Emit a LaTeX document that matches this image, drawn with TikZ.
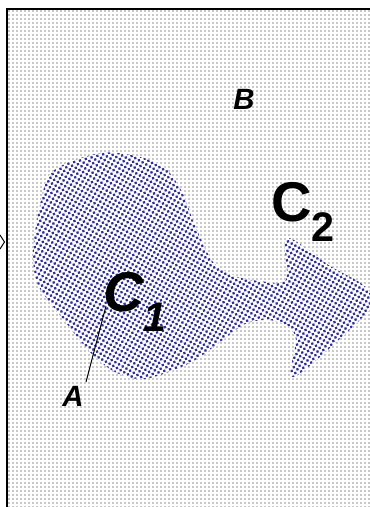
\documentclass[tikz,border=0pt]{standalone}
\usepackage{fontspec}
\setmainfont{Liberation Sans}
\usepackage{tikz}
\definecolor{dotgray}{HTML}{C8C8C8}
\definecolor{blobblue}{HTML}{2E2E94}
\newcommand{\blobpath}{plot[smooth cycle, tension=0.5] coordinates {
    (100,153) (140,157) (165,168) (182,192) (196,228) (213,262)
    (235,276) (260,281) (286,280) (287,238) (330,266) (362,284)
    (373,300) (362,318) (294,377) (296,340) (288,326) (268,320)
    (245,324) (220,342) (190,363) (145,379) (115,372) (90,352)
    (60,315) (38,285) (33,255) (38,215) (52,172)}}

\begin{document}
\begin{tikzpicture}[x=0.75pt, y=-0.75pt,
    bgrow/.style={dotgray, line width=1pt, dash pattern=on 1pt off 2pt},
    blobrow/.style={blobblue, line width=1.7pt, dash pattern=on 1.7pt off 2.8pt},
    lab/.style={inner sep=0pt, anchor=base west, font=\bfseries\itshape\fontsize{22}{22}\selectfont},
    biglab/.style={inner sep=0pt, anchor=base west, font=\bfseries\fontsize{42}{42}\selectfont}]
        \useasboundingbox (0,0) rectangle (370,507);
        \fill[white] (0,0) rectangle (370,507);
        \foreach \y in {11,15,...,507}
            \draw[bgrow] (8.3,\y) -- (371,\y);
        \draw[line width=1.5pt] (6.5,520) -- (6.5,8.5) -- (380,8.5);
        \draw[line width=0.75pt] (0,235) -- (4.5,242) -- (0,249);
        \fill[white] \blobpath;
        \begin{scope}
            \clip \blobpath;
            \begin{scope}[shift={(200,265)}, rotate=15]
                \foreach \k in {0,...,116} {
                    \pgfmathsetmacro{\off}{3*mod(\k,2)}
                    \draw[blobrow] (-210+\off,3*\k-174) -- (210,3*\k-174);
                }
            \end{scope}
        \end{scope}
        \node[lab] (b) at (233,109) {B};
        \node[lab] (a) at (62,406) {A};
        \node[biglab, font=\bfseries\itshape\fontsize{42}{42}\selectfont] (c1) at (103,311)
            {C\raisebox{-15pt}{\fontsize{31}{31}\selectfont 1}};
        \node[biglab] (c2) at (271,221)
            {C\raisebox{-15pt}{\fontsize{31}{31}\selectfont 2}};
        \coordinate (atip) at (86,382);
        \coordinate (c1tip) at (106,306);
        \draw[line width=0.75pt] (atip) -- (c1tip);
    \end{tikzpicture}
\end{document}
